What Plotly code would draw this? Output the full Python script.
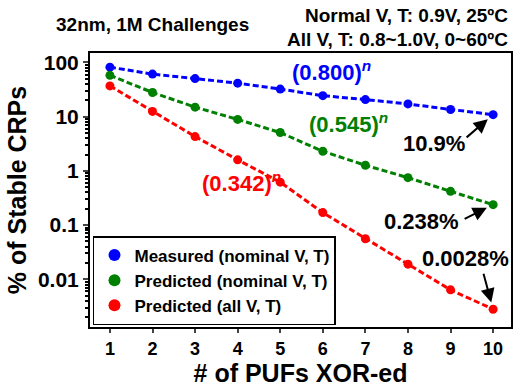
import numpy as np
import plotly.graph_objects as go

n_pufs = [1, 2, 3, 4, 5, 6, 7, 8, 9, 10]
measured_nominal = [82, 61, 50.5, 41.5, 32.3, 24.4, 20.7, 17.2, 13.6, 10.9]
predicted_nominal = [58, 28, 15, 8.9, 5.1, 2.3, 1.27, 0.75, 0.42, 0.238]
predicted_all = [37, 12.5, 4.3, 1.6, 0.62, 0.17, 0.056, 0.019, 0.0064, 0.0028]

series_names = ["Measured (nominal V, T)", "Predicted (nominal V, T)", "Predicted (all V, T)"]
series_colors = ["#0000FF", "#008000", "#FF0000"]
fit_labels = ["(0.800)<sup><i>n</i></sup>", "(0.545)<sup><i>n</i></sup>", "(0.342)<sup><i>n</i></sup>"]
end_labels = ["10.9%", "0.238%", "0.0028%"]

y_tickvals = [0.01, 0.1, 1, 10, 100]
y_ticktext = ["0.01", "0.1", "1", "10", "100"]
x_tickvals = n_pufs

FONT = "Arial, Liberation Sans, sans-serif"

# plot area in pixels
L, R, T, B = 90, 3, 53, 54
W, H = 516, 387
PW, PH = W - L - R, H - T - B


def paper(px, py):
    return (px - L) / PW, (H - B - py) / PH


fig = go.Figure()
series = [measured_nominal, predicted_nominal, predicted_all]
for vals, name, col in zip(series, series_names, series_colors):
    fig.add_trace(go.Scatter(x=n_pufs, y=vals, mode="lines", showlegend=False,
                             line=dict(color=col, width=3, dash="6px,3px")))
for vals, name, col in zip(series, series_names, series_colors):
    fig.add_trace(go.Scatter(x=n_pufs, y=vals, mode="markers", name=name,
                             marker=dict(color=col, size=9)))

minor_vals = [m * 10.0 ** e for e in range(-3, 3) for m in range(2, 10)]

fig.update_layout(
    width=W, height=H,
    margin=dict(l=L, r=R, t=T, b=B),
    paper_bgcolor="white", plot_bgcolor="white",
    font=dict(family=FONT, size=18, color="black", weight="bold"),
    xaxis=dict(range=[0.532, 10.42], tickvals=x_tickvals, ticks="outside", ticklen=4,
               tickwidth=2, showline=True, linewidth=2, linecolor="black", mirror=True,
               showgrid=False, zeroline=False, tickfont=dict(size=18),
               title=dict(text="# of PUFs XOR-ed", font=dict(size=25), standoff=8)),
    yaxis=dict(type="log", range=[-2.88, 2.175], tickvals=y_tickvals, ticktext=y_ticktext,
               ticks="outside", ticklen=5, tickwidth=2, showline=True, linewidth=2,
               linecolor="black", mirror=True, showgrid=False, zeroline=False,
               tickfont=dict(size=21),
               minor=dict(tickvals=minor_vals, ticks="outside", ticklen=3, tickwidth=1.5,
                          tickcolor="black", showgrid=False),
               title=dict(text="% of Stable CRPs", font=dict(size=25), standoff=4)),
    legend=dict(x=paper(93, 0)[0], y=paper(0, 331)[1], xanchor="left", yanchor="bottom",
                bgcolor="white", bordercolor="black", borderwidth=1.5,
                font=dict(size=17), itemsizing="constant"),
)

anns = []
# header texts
for txt, px, py, anc in [("32nm, 1M Challenges", 153, 24, "center"),
                         ("Normal V, T: 0.9V, 25ºC", 512, 15, "right"),
                         ("All V, T: 0.8~1.0V, 0~60ºC", 512, 39, "right")]:
    xp, yp = paper(px, py)
    anns.append(dict(text=txt, x=xp, y=yp, xref="paper", yref="paper", xanchor=anc,
                     yanchor="middle", showarrow=False, font=dict(size=19)))
# fit labels
for txt, col, (px, py) in zip(fit_labels, series_colors, [(333, 71), (350, 125), (242, 185)]):
    xp, yp = paper(px, py)
    anns.append(dict(text=txt, x=xp, y=yp, xref="paper", yref="paper", showarrow=False,
                     xanchor="center", yanchor="middle", font=dict(size=22, color=col)))
# end labels
for txt, (px, py) in zip(end_labels, [(436, 145), (423, 225), (467, 263)]):
    xp, yp = paper(px, py)
    anns.append(dict(text=txt, x=xp, y=yp, xref="paper", yref="paper", showarrow=False,
                     xanchor="center", yanchor="middle", font=dict(size=22)))
# arrows
for vals, (ax, ay) in zip(series, [(-28, 24), (-30, 15), (-10, -37)]):
    anns.append(dict(text="", x=n_pufs[-1], y=np.log10(vals[-1]), xref="x", yref="y",
                     ax=ax, ay=ay, showarrow=True, arrowhead=2, arrowsize=1.4,
                     arrowwidth=2, arrowcolor="black", standoff=7))
fig.update_layout(annotations=anns)

fig.write_html("out.html")
